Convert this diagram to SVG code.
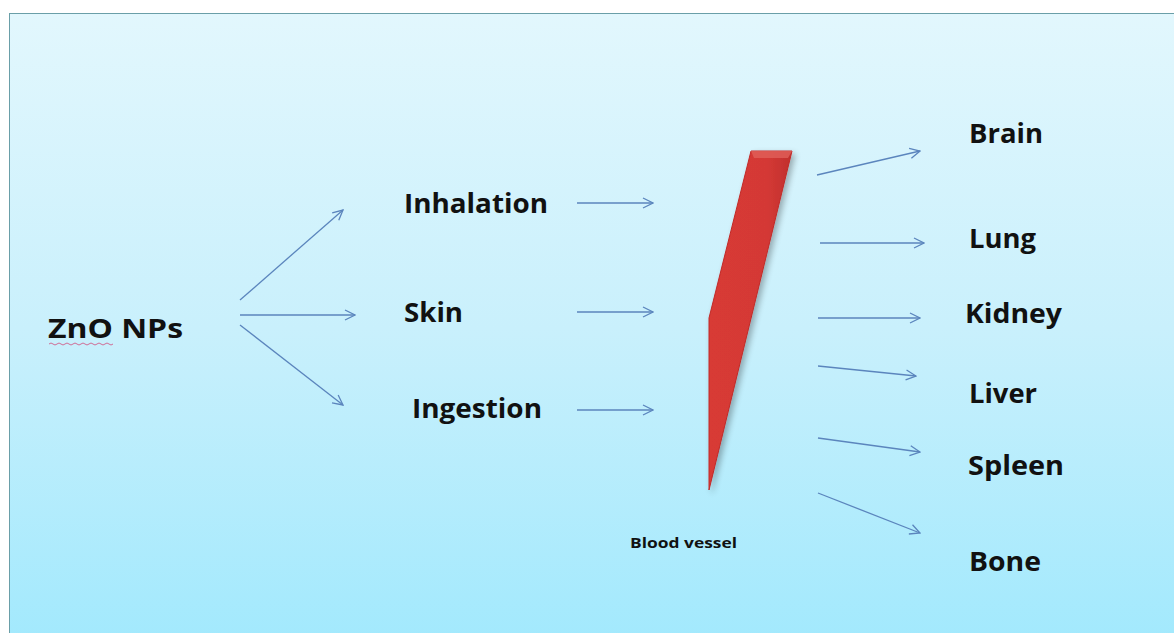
<svg xmlns="http://www.w3.org/2000/svg" width="1174" height="633" viewBox="0 0 1174 633">
<defs>
<linearGradient id="bg" x1="0" y1="0" x2="0" y2="1">
<stop offset="0" stop-color="#e2f7fd"/>
<stop offset="0.5" stop-color="#c9f0fc"/>
<stop offset="1" stop-color="#a2e9fd"/>
</linearGradient>
<linearGradient id="red" x1="0" y1="0" x2="1" y2="0">
<stop offset="0" stop-color="#d83a36"/>
<stop offset="0.7" stop-color="#d43935"/>
<stop offset="1" stop-color="#c0302d"/>
</linearGradient>
<filter id="sh" x="-30%" y="-10%" width="160%" height="130%">
<feGaussianBlur in="SourceAlpha" stdDeviation="3"/>
<feOffset dx="3" dy="3"/>
<feComponentTransfer><feFuncA type="linear" slope="0.3"/></feComponentTransfer>
<feMerge><feMergeNode/><feMergeNode in="SourceGraphic"/></feMerge>
</filter>
<marker id="ah" viewBox="0 0 12 12" refX="11" refY="6" markerWidth="12" markerHeight="12" markerUnits="userSpaceOnUse" orient="auto">
<path d="M1,1 L11,6 L1,11" fill="none" stroke="#5b85bd" stroke-width="1.3"/>
</marker>
</defs>
<style>
.t{font-family:"Open Sans","Lato","Liberation Sans",sans-serif;font-weight:bold;fill:#111}
.big{font-size:26px}
.sm{font-size:14px}
.c line{stroke:#5b85bd;stroke-width:1.3;marker-end:url(#ah)}
</style>
<rect x="0" y="0" width="1174" height="633" fill="#ffffff"/>
<rect x="9.5" y="13.5" width="1170" height="630" fill="url(#bg)" stroke="#6a9fa8" stroke-width="1"/>
<g id="n-zno">
<text class="t big" x="48" y="338" textLength="135" lengthAdjust="spacingAndGlyphs">ZnO NPs</text>
<path d="M49,344 q2,-2 4,0 t4,0 t4,0 t4,0 t4,0 t4,0 t4,0 t4,0 t4,0 t4,0 t4,0 t4,0 t4,0 t4,0 t4,0 t4,0" fill="none" stroke="#d04a7a" stroke-width="0.8"/>
</g>
<g id="n-inhalation"><text class="t big" x="404" y="213" textLength="144" lengthAdjust="spacingAndGlyphs">Inhalation</text></g>
<g id="n-skin"><text class="t big" x="404" y="322" textLength="59" lengthAdjust="spacingAndGlyphs">Skin</text></g>
<g id="n-ingestion"><text class="t big" x="412" y="418" textLength="130" lengthAdjust="spacingAndGlyphs">Ingestion</text></g>
<g id="n-vessel">
<path d="M751,151 L792,151 L709,490 L709,318 Z" fill="url(#red)" stroke="#c22a28" stroke-width="1" filter="url(#sh)"/>
<path d="M751,151 L792,151 L788,158 L754,158 Z" fill="#e0605a" opacity="0.8"/>
<text class="t sm" x="630" y="548" textLength="107" lengthAdjust="spacingAndGlyphs">Blood vessel</text>
</g>
<g id="n-brain"><text class="t big" x="969" y="143" textLength="74" lengthAdjust="spacingAndGlyphs">Brain</text></g>
<g id="n-lung"><text class="t big" x="969" y="248" textLength="67" lengthAdjust="spacingAndGlyphs">Lung</text></g>
<g id="n-kidney"><text class="t big" x="965" y="323" textLength="97" lengthAdjust="spacingAndGlyphs">Kidney</text></g>
<g id="n-liver"><text class="t big" x="969" y="403" textLength="68" lengthAdjust="spacingAndGlyphs">Liver</text></g>
<g id="n-spleen"><text class="t big" x="968" y="475" textLength="96" lengthAdjust="spacingAndGlyphs">Spleen</text></g>
<g id="n-bone"><text class="t big" x="969" y="571" textLength="72" lengthAdjust="spacingAndGlyphs">Bone</text></g>
<g id="connectors" class="c">
<line x1="240" y1="300" x2="343" y2="210"/>
<line x1="240" y1="315" x2="355" y2="315"/>
<line x1="240" y1="325" x2="343" y2="405"/>
<line x1="577" y1="203" x2="653" y2="203"/>
<line x1="577" y1="312" x2="653" y2="312"/>
<line x1="577" y1="410" x2="653" y2="410"/>
<line x1="817" y1="175" x2="920" y2="151"/>
<line x1="820" y1="243" x2="924" y2="243"/>
<line x1="818" y1="318" x2="920" y2="318"/>
<line x1="818" y1="366" x2="916" y2="376"/>
<line x1="818" y1="438" x2="920" y2="452"/>
<line x1="818" y1="493" x2="920" y2="533"/>
</g>
</svg>
